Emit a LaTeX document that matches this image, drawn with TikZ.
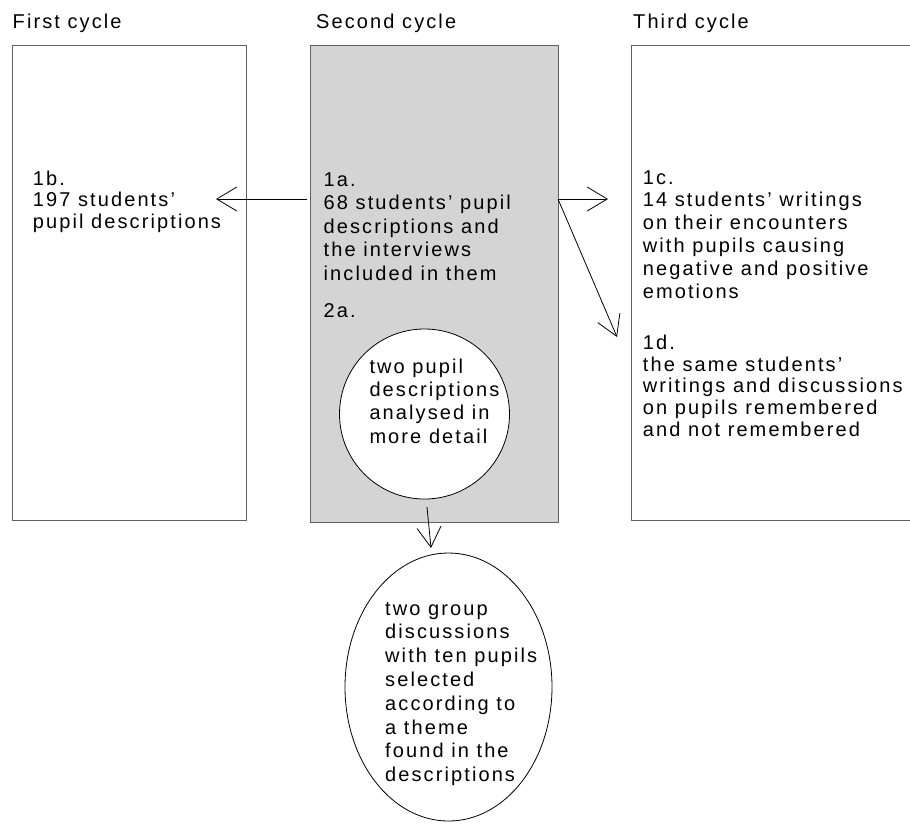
\documentclass[tikz,border=0pt]{standalone}
\usepackage{fontspec}
\setmainfont{Liberation Sans}[LetterSpace=10.5]
\usetikzlibrary{arrows.meta,shapes.geometric}

% multi-line text whose baseline is that of its first line
\newcommand\txtblock[2]{\parbox[t]{300pt}{\fontsize{20}{#1}\selectfont\raggedright #2}}

\begin{document}
\begin{tikzpicture}[x=1pt,y=-1pt,
  cyclebox/.style={draw=black!62, line width=1.2pt, rectangle, anchor=north west, inner sep=0pt},
  label/.style={anchor=base west, inner sep=0pt, font=\fontsize{20}{22}\selectfont},
  para/.style={anchor=base west, inner sep=0pt},
  blob/.style={draw=black, line width=0.8pt, fill=white, inner sep=0pt},
  arr/.style={line width=0.8pt, -{Straight Barb[length=20pt,width=24pt,line width=0.8pt]}}
]
\useasboundingbox (0,0) rectangle (910,823);
\fill[white] (0,0) rectangle (910,823);

% column titles
\node[label] (t1) at (12.5,28.5) {First cycle};
\node[label] (t2) at (316,28.5) {Second cycle};
\node[label] (t3) at (633,28.5) {Third cycle};

% the three cycle boxes
\node[cyclebox, minimum width=234pt, minimum height=475pt] (first) at (12,45) {};
\node[cyclebox, fill={rgb,255:red,212;green,212;blue,212}, minimum width=248pt, minimum height=477pt] (second) at (310,45) {};
\node[cyclebox, minimum width=290pt, minimum height=475pt] (third) at (631,45) {};

% inner circle and lower ellipse
\node[blob, circle, minimum size=170pt] (detail) at (424.5,414) {};
\node[blob, ellipse, minimum width=207pt, minimum height=268pt] (groups) at (448.5,687) {};

% texts
\node[para] (p1b) at (32.7,185) {\txtblock{21.7}{1b.\\197 students'\\pupil descriptions}};
\node[para] (p1a) at (323.5,186) {\txtblock{23.5}{1a.\\68 students' pupil\\descriptions and\\the interviews\\included in them}};
\node[para] (p2a) at (323.5,317.7) {\txtblock{23}{2a.}};
\node[para] (p1c) at (642.7,184) {\txtblock{22.8}{1c.\\14 students' writings\\on their encounters\\with pupils causing\\negative and positive\\emotions}};
\node[para] (p1d) at (642.7,349.3) {\txtblock{21.7}{1d.\\the same students'\\writings and discussions\\on pupils remembered\\and not remembered}};
\node[para] (pdet) at (369.3,373.3) {\txtblock{23.3}{two pupil\\descriptions\\analysed in\\more detail}};
\node[para] (pgrp) at (385,615) {\txtblock{23.8}{two group\\discussions\\with ten pupils\\selected\\according to\\a theme\\found in the\\descriptions}};

% connector end points
\coordinate (fromL) at (307,199);
\coordinate (toL)   at (216,199);
\coordinate (fromR) at (558,199);
\coordinate (toR)   at (608,199);
\coordinate (toD)   at (617,337);
\coordinate (fromC) at (427,507);
\coordinate (toE)   at (431,548);

\draw[arr] (fromL) -- (toL);
\draw[arr] (fromR) -- (toR);
\draw[arr] (fromR) -- (toD);
\draw[arr] (fromC) -- (toE);
\end{tikzpicture}
\end{document}
